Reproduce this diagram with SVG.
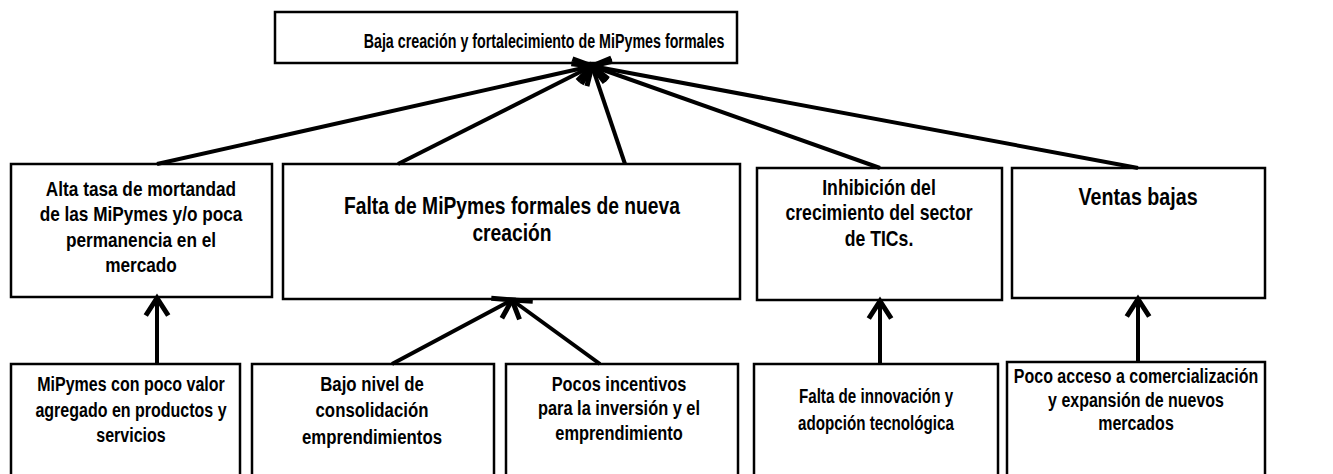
<svg xmlns="http://www.w3.org/2000/svg" width="1333" height="474" viewBox="0 0 1333 474">
<style>
.box{fill:#fff;stroke:#000;stroke-width:2.5}
.t{font-family:"Liberation Sans",Arial,sans-serif;font-weight:bold;fill:#000;text-anchor:middle}
.c{stroke:#000;stroke-width:4;fill:none}
</style>
<defs>
<marker id="ah" markerUnits="userSpaceOnUse" markerWidth="30" markerHeight="30" viewBox="-18 -12 22 24" refX="0" refY="0" orient="auto">
<path d="M-14,-9 L0,0 L-14,9" fill="none" stroke="#000" stroke-width="4"/>
</marker>
</defs>
<rect width="1333" height="474" fill="#fff"/>
<g id="top">
<rect class="box" x="275" y="12" width="462" height="51"/>
<text class="t" transform="translate(544,0) scale(0.68,1)" x="0" y="48.5" font-size="21">Baja creación y fortalecimiento de MiPymes formales</text>
</g>
<g id="m1">
<rect class="box" x="11" y="164" width="261" height="133"/>
<text class="t" transform="translate(141,0) scale(0.82,1)" font-size="21"><tspan x="0" y="196">Alta tasa de mortandad</tspan><tspan x="0" y="221">de las MiPymes y/o poca</tspan><tspan x="0" y="247">permanencia en el</tspan><tspan x="0" y="272">mercado</tspan></text>
</g>
<g id="m2">
<rect class="box" x="283" y="164" width="457" height="135"/>
<text class="t" transform="translate(512,0) scale(0.82,1)" font-size="23.5"><tspan x="0" y="214">Falta de MiPymes formales de nueva</tspan><tspan x="0" y="241">creación</tspan></text>
</g>
<g id="m3">
<rect class="box" x="757" y="168" width="245" height="132"/>
<text class="t" transform="translate(879,0) scale(0.82,1)" font-size="21.5"><tspan x="0" y="195">Inhibición del</tspan><tspan x="0" y="220">crecimiento del sector</tspan><tspan x="0" y="246">de TICs.</tspan></text>
</g>
<g id="m4">
<rect class="box" x="1012" y="168" width="253" height="130"/>
<text class="t" transform="translate(1138,0) scale(0.82,1)" x="0" y="205" font-size="24">Ventas bajas</text>
</g>
<g id="b1">
<rect class="box" x="11" y="364" width="229" height="120"/>
<text class="t" transform="translate(131,0) scale(0.8,1)" font-size="20"><tspan x="0" y="391">MiPymes con poco valor</tspan><tspan x="0" y="417">agregado en productos y</tspan><tspan x="0" y="442">servicios</tspan></text>
</g>
<g id="b2">
<rect class="box" x="252" y="364" width="242" height="120"/>
<text class="t" transform="translate(372,0) scale(0.82,1)" font-size="20.5"><tspan x="0" y="391">Bajo nivel de</tspan><tspan x="0" y="417">consolidación</tspan><tspan x="0" y="444">emprendimientos</tspan></text>
</g>
<g id="b3">
<rect class="box" x="506" y="364" width="232" height="120"/>
<text class="t" transform="translate(619,0) scale(0.82,1)" font-size="20"><tspan x="0" y="391">Pocos incentivos</tspan><tspan x="0" y="415">para la inversión y el</tspan><tspan x="0" y="440">emprendimiento</tspan></text>
</g>
<g id="b4">
<rect class="box" x="754" y="364" width="244" height="120"/>
<text class="t" transform="translate(876,0) scale(0.74,1)" font-size="20.5"><tspan x="0" y="403">Falta de innovación y</tspan><tspan x="0" y="430">adopción tecnológica</tspan></text>
</g>
<g id="b5">
<rect class="box" x="1007" y="362" width="258" height="120"/>
<text class="t" transform="translate(1136,0) scale(0.82,1)" font-size="19.5"><tspan x="0" y="383">Poco acceso a comercialización</tspan><tspan x="0" y="407">y expansión de nuevos</tspan><tspan x="0" y="430">mercados</tspan></text>
</g>
<g id="connectors">
<line class="c" x1="157" y1="164" x2="592" y2="66" marker-end="url(#ah)"/>
<line class="c" x1="398" y1="164" x2="592" y2="66" marker-end="url(#ah)"/>
<line class="c" x1="625" y1="164" x2="592" y2="66" marker-end="url(#ah)"/>
<line class="c" x1="880" y1="168" x2="592" y2="66" marker-end="url(#ah)"/>
<line class="c" x1="1138" y1="168" x2="592" y2="66" marker-end="url(#ah)"/>
<line class="c" x1="157" y1="364" x2="157" y2="298" marker-end="url(#ah)"/>
<line class="c" x1="392" y1="364" x2="512" y2="300" marker-end="url(#ah)"/>
<line class="c" x1="600" y1="364" x2="512" y2="300" marker-end="url(#ah)"/>
<line class="c" x1="880" y1="364" x2="880" y2="301" marker-end="url(#ah)"/>
<line class="c" x1="1138" y1="362" x2="1138" y2="299" marker-end="url(#ah)"/>
</g>
</svg>
